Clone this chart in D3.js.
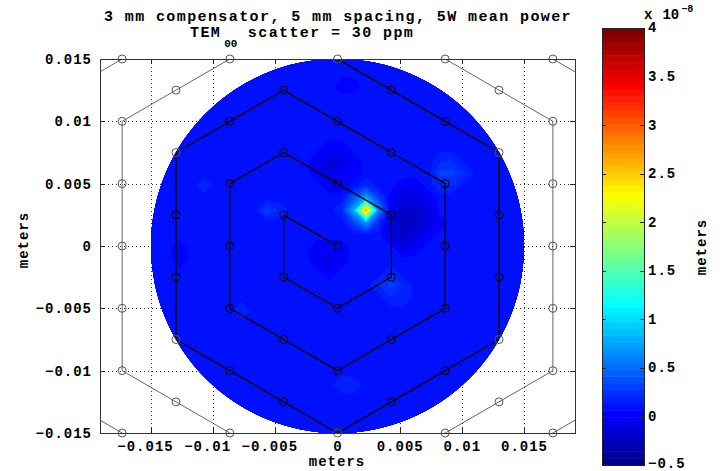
<!DOCTYPE html>
<html>
<head>
<meta charset="utf-8">
<script src="https://cdn.jsdelivr.net/npm/d3@7"></script>
<style>
  body { margin: 0; background: #fff; }
  text { font-family: "Liberation Mono", "DejaVu Sans Mono", monospace; font-weight: bold; fill: #000; }
</style>
</head>
<body>
<div id="container"></div>
<script>
/* DATA */
// axis ticks (meters)
const xTicks = [-0.015, -0.01, -0.005, 0, 0.005, 0.01, 0.015]
const xTickLabels = ["−0.015", "−0.01", "−0.005", "0", "0.005", "0.01", "0.015"]
const yTicks = [-0.015, -0.01, -0.005, 0, 0.005, 0.01, 0.015]
const yTickLabels = ["−0.015", "−0.01", "−0.005", "0", "0.005", "0.01", "0.015"]
// colorbar ticks (x 1e-8 m)
const cbTicks = [-0.5, 0, 0.5, 1, 1.5, 2, 2.5, 3, 3.5, 4]
const cbTickLabels = ["−0.5", "0", "0.5", "1", "1.5", "2", "2.5", "3", "3.5", "4"]

// actuator spiral, points in mm, 5 mm spacing
const actuators = [
  [0,0],[-4.33,2.5],[-4.33,-2.5],[0,-5],[4.33,-2.5],[4.33,2.5],[0,5],[-4.33,7.5],
  [-8.66,5],[-8.66,0],[-8.66,-5],[-4.33,-7.5],[0,-10],[4.33,-7.5],[8.66,-5],[8.66,0],[8.66,5],
  [4.33,7.5],[0,10],[-4.33,12.5],[-8.66,10],[-12.99,7.5],[-12.99,2.5],[-12.99,-2.5],[-12.99,-7.5],
  [-8.66,-10],[-4.33,-12.5],[0,-15],[4.33,-12.5],[8.66,-10],[12.99,-7.5],[12.99,-2.5],[12.99,2.5],[12.99,7.5],
  [8.66,10],[4.33,12.5],[0,15],[-4.33,17.5],[-8.66,15],[-12.99,12.5],[-17.32,10],
  [-17.32,5],[-17.32,0],[-17.32,-5],[-17.32,-10],[-12.99,-12.5],[-8.66,-15],[-4.33,-17.5],[0,-20],
  [4.33,-17.5],[8.66,-15],[12.99,-12.5],[17.32,-10],[17.32,-5],[17.32,0],[17.32,5],[17.32,10],
  [12.99,12.5],[8.66,15],[4.33,17.5],[0,20],[-4.33,22.5],[-8.66,20],[-12.99,17.5],[-17.32,15],[-21.65,12.5],
  [-21.65,7.5],[-21.65,2.5],[-21.65,-2.5],[-21.65,-7.5],[-21.65,-12.5],[-17.32,-15],[-12.99,-17.5],[-8.66,-20],
  [-4.33,-22.5],[0,-25],[4.33,-22.5],[8.66,-20],[12.99,-17.5],[17.32,-15],[21.65,-12.5],
  [21.65,-7.5],[21.65,-2.5],[21.65,2.5],[21.65,7.5],[21.65,12.5],[17.32,15],[12.99,17.5],[8.66,20],[4.33,22.5],[0,25]
]

// surface height, units of 1e-9 m, sampled every 1 mm
// columns start at x = -15.7 mm, rows start at y = +15.86 mm (top)
const gridX0 = -15.7, gridY0 = 15.86, gridStep = 1
const surface = [
  [1,1,1,1,1,1,1,1, 1,1,1,1,1,1,1,1, 1,1,1,1,1,1,1,1, 1,1,1,1,1,1,1,1],
  [1,1,1,1,1,1,1,1, 1,1,1,1,1,1,1,1, 1,1,1,1,1,1,1,1, 1,1,1,1,1,1,1,1],
  [1,1,1,1,1,1,1,1, 1,1,1,1,1,1,1,1, 1,1,1,1,1,1,1,1, 1,1,1,1,1,1,1,1],
  [1,1,1,1,1,1,1,1, 1,1,1,1,1,1,1,1, 0,0,1,1,1,1,1,1, 1,1,1,1,1,1,1,1],
  [1,1,1,1,1,1,1,1, 1,1,1,1,1,1,1,1, 1,1,1,1,1,1,1,1, 1,1,1,1,1,1,1,1],
  [1,1,1,1,1,1,1,1, 1,1,1,1,1,1,1,1, 1,1,1,1,1,1,1,1, 1,1,1,1,1,1,1,1],
  [1,1,1,1,1,1,1,1, 1,1,1,1,1,1,1,1, 1,1,1,1,1,1,1,1, 1,1,1,1,1,1,1,1],
  [1,1,1,1,1,1,1,1, 1,1,1,1,1,1,1,1, 1,1,1,1,1,1,1,1, 1,1,1,1,1,1,1,1],
  [1,1,1,1,1,1,1,1, 1,1,1,1,1,1,1,0, 0,1,1,1,1,1,1,1, 1,1,1,1,1,1,1,1],
  [1,1,1,1,1,1,1,1, 1,1,1,1,1,1,0,-1, -1,0,1,1,1,1,1,1, 2,2,1,1,1,1,1,1],
  [1,1,1,1,1,1,1,1, 1,1,1,1,1,1,0,-1, 0,0,1,1,1,1,1,1, 3,3,2,1,1,1,1,1],
  [1,1,1,1,1,2,1,1, 1,1,1,1,1,1,1,0, 0,1,2,1,1,0,0,1, 2,2,1,1,1,1,1,1],
  [1,1,1,1,1,1,1,1, 1,1,1,1,1,1,1,1, 1,4,8,3,0,-1,-1,0, 1,1,1,1,1,1,1,1],
  [1,1,1,1,1,1,1,1, 1,1,3,2,1,1,1,1, 2,8,27,6,0,-2,-2,-1, 1,1,1,1,1,1,1,1],
  [1,1,1,1,1,1,1,1, 1,1,1,1,1,1,1,1, 1,3,7,2,-1,-3,-2,-1, 0,1,1,1,1,1,1,1],
  [1,1,1,1,1,1,1,1, 1,1,1,1,1,1,1,1, 1,1,1,1,-1,-2,-1,0, 1,1,1,1,1,1,1,1],
  [1,1,1,0,1,1,1,1, 1,1,1,1,1,1,0,0, 0,1,1,1,1,-1,0,1, 1,1,1,1,1,1,1,1],
  [1,1,1,0,1,1,1,1, 1,1,1,1,1,1,0,-1, 0,1,1,1,1,1,1,1, 1,1,1,1,1,1,1,1],
  [1,1,1,1,1,1,1,1, 1,1,1,1,1,1,1,0, 1,1,1,1,2,1,1,1, 1,1,1,1,1,1,1,1],
  [1,1,1,1,1,1,1,1, 1,1,1,1,1,1,1,1, 1,1,1,2,3,2,1,1, 1,1,1,1,1,1,1,1],
  [1,1,1,1,1,1,1,1, 1,1,1,1,1,1,1,1, 1,1,1,1,2,2,1,1, 1,1,1,1,1,1,1,1],
  [1,1,1,1,1,1,1,1, 2,1,1,1,1,1,1,1, 1,1,1,1,1,1,1,1, 1,1,1,1,1,1,1,1],
  [1,1,1,1,1,1,1,1, 1,1,1,1,1,1,1,1, 1,1,1,1,1,1,1,1, 1,1,1,1,1,1,1,1],
  [1,1,1,1,1,1,1,1, 1,1,1,1,1,1,1,1, 1,1,1,1,1,1,1,1, 1,1,1,1,1,1,1,1],
  [1,1,1,1,1,1,1,1, 1,1,1,1,1,1,1,1, 1,1,1,1,1,1,1,1, 1,1,1,1,1,1,1,1],
  [1,1,1,1,1,1,1,1, 1,1,1,1,1,1,1,1, 1,1,1,1,1,1,1,1, 1,1,1,1,1,1,1,1],
  [1,1,1,1,1,1,1,1, 1,1,1,1,1,1,1,1, 1,1,1,1,1,1,1,1, 1,1,1,1,1,1,1,1],
  [1,1,1,1,1,1,1,1, 1,1,1,1,1,1,1,1, 2,2,1,1,1,1,1,1, 1,1,1,1,1,1,1,1],
  [1,1,1,1,1,1,1,1, 1,1,1,1,1,1,1,1, 1,1,1,1,1,1,1,1, 1,1,1,1,1,1,1,1],
  [1,1,1,1,1,1,1,1, 1,1,1,1,1,1,1,1, 1,1,1,1,1,1,1,1, 1,1,1,1,1,1,1,1],
  [1,1,1,1,1,1,1,1, 1,1,1,1,1,1,1,1, 1,1,1,1,1,1,1,1, 1,1,1,1,1,1,1,1],
  [1,1,1,1,1,1,1,1, 1,1,1,1,1,1,1,1, 1,1,1,1,1,1,1,1, 1,1,1,1,1,1,1,1]
]
const apertureRadius = 0.015   // meters
const cMin = -0.5, cMax = 4     // colour limits, x 1e-8 m

/* CONSTANTS */
const width = 720, height = 471
const plot = { left: 100, right: 575, top: 59, bottom: 433 }
const cb = { left: 602, right: 644, top: 28, bottom: 465 }

// MATLAB jet(64)
function jet(k) {
  let r, g, b
  if (k <= 8) { r = 0; g = 0; b = 0.5 + k / 16 }
  else if (k <= 24) { r = 0; g = (k - 8) / 16; b = 1 }
  else if (k <= 40) { r = (k - 24) / 16; g = 1; b = 1 - (k - 24) / 16 }
  else if (k <= 56) { r = 1; g = 1 - (k - 40) / 16; b = 0 }
  else { r = 1 - (k - 56) / 16; g = 0; b = 0 }
  return d3.rgb(r * 255, g * 255, b * 255).formatHex()
}
const jetColors = d3.range(1, 65).map(jet)

/* SCALES */
const xScale = d3.scaleLinear().domain([-0.0191, 0.0191]).range([plot.left, plot.right])
const yScale = d3.scaleLinear().domain([-0.015, 0.015]).range([plot.bottom, plot.top])
const colorScale = d3.scaleQuantize().domain([cMin, cMax]).range(jetColors)
const cbScale = d3.scaleLinear().domain([cMin, cMax]).range([cb.bottom, cb.top])

/* SVG */
const svg = d3.select("#container").append("svg")
  .attr("width", width).attr("height", height)

const defs = svg.append("defs")
defs.append("clipPath").attr("id", "axclip").append("rect")
  .attr("x", plot.left).attr("y", plot.top)
  .attr("width", plot.right - plot.left).attr("height", plot.bottom - plot.top)
defs.append("clipPath").attr("id", "diskclip").append("ellipse")
  .attr("cx", xScale(0)).attr("cy", yScale(0))
  .attr("rx", xScale(apertureRadius) - xScale(0))
  .attr("ry", yScale(-apertureRadius) - yScale(0))

// grid (dotted)
const gridG = svg.append("g").attr("stroke", "#333").attr("stroke-dasharray", "1,3").attr("shape-rendering", "crispEdges")
gridG.selectAll(".gx").data(xTicks).join("line").attr("class", "gx")
  .attr("x1", d => Math.round(xScale(d)) + 0.5).attr("x2", d => Math.round(xScale(d)) + 0.5)
  .attr("y1", plot.top).attr("y2", plot.bottom)
gridG.selectAll(".gy").data(yTicks).join("line").attr("class", "gy")
  .attr("y1", d => Math.round(yScale(d)) + 0.5).attr("y2", d => Math.round(yScale(d)) + 0.5)
  .attr("x1", plot.left).attr("x2", plot.right)

// surface
const ny = surface.length, nx = surface[0].length
const values = surface.flat().map(v => v / 10)
const thresholds = d3.range(64).map(k => cMin + k * (cMax - cMin) / 64)
const bands = d3.contours().size([nx, ny]).thresholds(thresholds)(values)
const gridProj = d3.geoTransform({
  point(x, y) {
    this.stream.point(
      xScale((gridX0 + (x - 0.5) * gridStep) / 1000),
      yScale((gridY0 - (y - 0.5) * gridStep) / 1000))
  }
})
const gridPath = d3.geoPath(gridProj)
svg.append("g").attr("clip-path", "url(#diskclip)")
  .selectAll("path").data(bands).join("path")
  .attr("d", gridPath)
  .attr("fill", d => colorScale(d.value + 1e-6))

// actuator spiral
const pts = actuators.map(p => [p[0] / 1000, p[1] / 1000])
const line = d3.line().x(d => xScale(d[0])).y(d => yScale(d[1]))
const inside = pts.filter(d => Math.abs(d[0]) <= 0.0191 && Math.abs(d[1]) <= 0.01501)

svg.append("path").attr("clip-path", "url(#axclip)")
  .attr("d", line(pts)).attr("fill", "none").attr("stroke", "#555").attr("stroke-width", 0.9)
svg.append("path").attr("clip-path", "url(#diskclip)")
  .attr("d", line(pts)).attr("fill", "none").attr("stroke", "#000").attr("stroke-width", 1.3)

svg.selectAll(".act").data(inside).join("circle").attr("class", "act")
  .attr("cx", d => xScale(d[0])).attr("cy", d => yScale(d[1])).attr("r", 4)
  .attr("fill", "none")
  .attr("stroke", d => Math.hypot(d[0], d[1]) < apertureRadius - 0.0005 ? "#000" : "#555")
  .attr("stroke-width", 1)

// axes box and inward ticks
const axes = svg.append("g").attr("shape-rendering", "crispEdges")
axes.append("g").attr("transform", `translate(0,${plot.bottom})`)
  .call(d3.axisBottom(xScale).tickValues(xTicks).tickFormat((d, i) => xTickLabels[i])
    .tickSizeInner(-5).tickSizeOuter(0).tickPadding(8))
  .selectAll(".tick text").attr("dx", d => d < 0 ? -6 : 0)
axes.append("g").attr("transform", `translate(0,${plot.top})`)
  .call(d3.axisTop(xScale).tickValues(xTicks).tickFormat("").tickSizeInner(-5).tickSizeOuter(0))
axes.append("g").attr("transform", `translate(${plot.left},0)`)
  .call(d3.axisLeft(yScale).tickValues(yTicks).tickFormat((d, i) => yTickLabels[i])
    .tickSizeInner(-5).tickSizeOuter(0).tickPadding(8))
axes.append("g").attr("transform", `translate(${plot.right},0)`)
  .call(d3.axisRight(yScale).tickValues(yTicks).tickFormat("").tickSizeInner(-5).tickSizeOuter(0))
axes.selectAll(".domain").remove()
axes.selectAll(".tick line").attr("stroke", "#222")
axes.selectAll(".tick text").style("font-size", "14px").style("letter-spacing", "1px")
axes.append("rect").attr("x", plot.left + 0.5).attr("y", plot.top + 0.5)
  .attr("width", plot.right - plot.left).attr("height", plot.bottom - plot.top)
  .attr("fill", "none").attr("stroke", "#333")

// titles and labels
const title = svg.append("g").style("font-size", "15px").style("letter-spacing", "1.4px")
title.append("text").attr("x", 338).attr("y", 21).attr("text-anchor", "middle")
  .text("3 mm compensator, 5 mm spacing, 5W mean power")
const t2 = title.append("text").attr("x", 190).attr("y", 37)
t2.append("tspan").text("TEM")
t2.append("tspan").attr("dx", 3).attr("dy", 10).style("font-size", "11px").style("letter-spacing", "0px").text("00")
t2.append("tspan").attr("dy", -10).text(" scatter = 30 ppm")

svg.append("text").attr("x", 337).attr("y", 466).attr("text-anchor", "middle")
  .style("font-size", "14px").style("letter-spacing", "1px").text("meters")
svg.append("text").attr("transform", "translate(28,240) rotate(-90)").attr("text-anchor", "middle")
  .style("font-size", "14px").style("letter-spacing", "1px").text("meters")

// colorbar
const cbG = svg.append("g")
cbG.selectAll("rect.band").data(jetColors).join("rect").attr("class", "band")
  .attr("x", cb.left).attr("width", cb.right - cb.left)
  .attr("y", (d, i) => cbScale(cMin + (i + 1) * (cMax - cMin) / 64))
  .attr("height", (d, i) => cbScale(cMin + i * (cMax - cMin) / 64) - cbScale(cMin + (i + 1) * (cMax - cMin) / 64) + 0.5)
  .attr("fill", d => d)
cbG.append("rect").attr("x", cb.left + 0.5).attr("y", cb.top + 0.5)
  .attr("width", cb.right - cb.left).attr("height", cb.bottom - cb.top)
  .attr("fill", "none").attr("stroke", "#222").attr("shape-rendering", "crispEdges")
cbG.selectAll(".cbtl").data(cbTicks).join("line").attr("class", "cbtl")
  .attr("x1", cb.left).attr("x2", cb.left + 4)
  .attr("y1", d => Math.round(cbScale(d)) + 0.5).attr("y2", d => Math.round(cbScale(d)) + 0.5)
  .attr("stroke", "#222")
cbG.selectAll(".cbtr").data(cbTicks).join("line").attr("class", "cbtr")
  .attr("x1", cb.right - 4).attr("x2", cb.right)
  .attr("y1", d => Math.round(cbScale(d)) + 0.5).attr("y2", d => Math.round(cbScale(d)) + 0.5)
  .attr("stroke", "#222")
cbG.selectAll(".cblab").data(cbTicks).join("text").attr("class", "cblab")
  .attr("x", cb.right + 4).attr("y", d => Math.min(cbScale(d), cb.bottom - 1)).attr("dy", "0.32em")
  .style("font-size", "14px").style("letter-spacing", "1px")
  .text((d, i) => cbTickLabels[i])
const mult = svg.append("text").attr("x", 644).attr("y", 19).style("font-size", "14px")
mult.append("tspan").text("x")
mult.append("tspan").attr("dx", 10).text("10")
mult.append("tspan").attr("dx", 2).attr("dy", -7).style("font-size", "10px").text("−8")
svg.append("text").attr("transform", "translate(706,247) rotate(-90)").attr("text-anchor", "middle")
  .style("font-size", "14px").style("letter-spacing", "1px").text("meters")
</script>
</body>
</html>
